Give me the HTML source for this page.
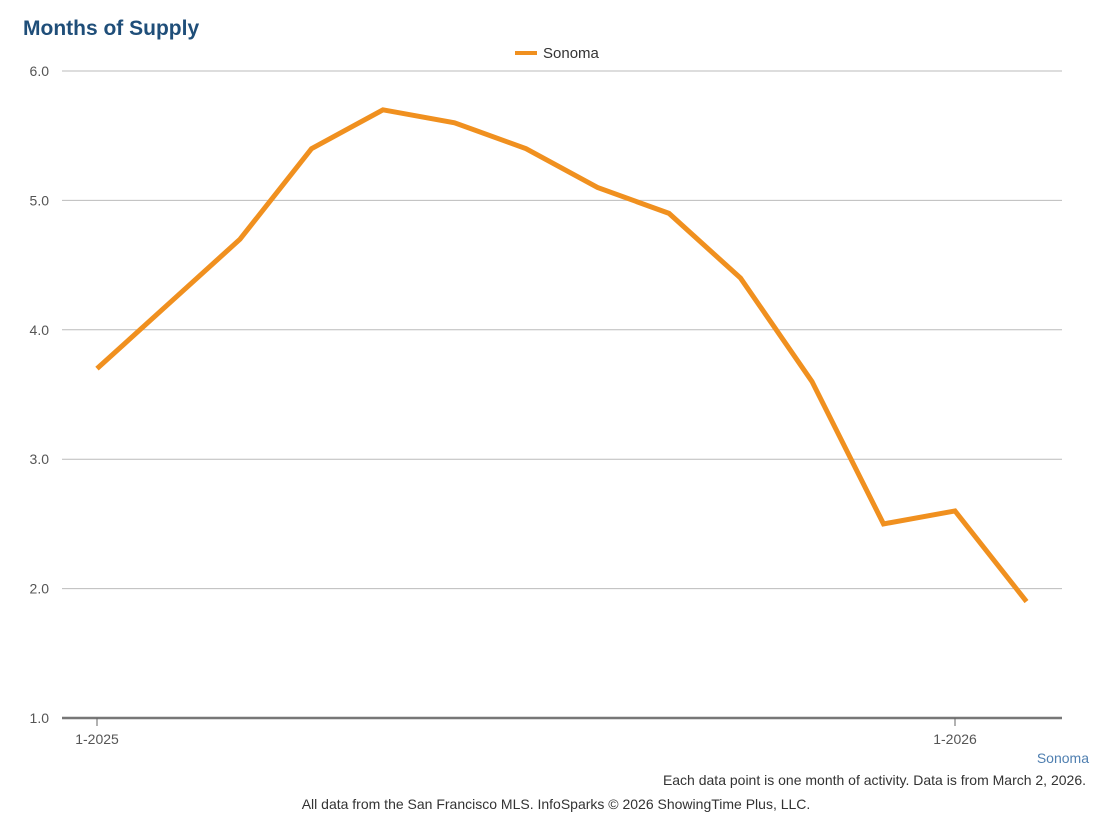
<!DOCTYPE html>
<html><head><meta charset="utf-8"><style>
body{margin:0;background:#fff;font-family:"Liberation Sans",Arial,sans-serif;}
svg text{font-family:"Liberation Sans",Arial,sans-serif;}
</style></head><body>
<svg id="chart" width="1112" height="826">
<text x="23" y="35" font-size="21" font-weight="bold" fill="#1f4e79">Months of Supply</text>
<g>
<rect x="515" y="51" width="22" height="4" fill="#f0901f"/>
<text x="543" y="58" font-size="15" fill="#333">Sonoma</text>
</g>
<g id="grid"></g><g id="axes"></g><g id="series"></g>
<text x="1089" y="763" font-size="14" fill="#4f7fb0" text-anchor="end">Sonoma</text>
<text x="1086" y="785" font-size="14" fill="#333" text-anchor="end">Each data point is one month of activity. Data is from March 2, 2026.</text>
<text x="556" y="809" font-size="14" fill="#333" text-anchor="middle">All data from the San Francisco MLS. InfoSparks © 2026 ShowingTime Plus, LLC.</text>
</svg>
<script>
const months = ["1-2025","2-2025","3-2025","4-2025","5-2025","6-2025","7-2025","8-2025","9-2025","10-2025","11-2025","12-2025","1-2026","2-2026"];
const sonoma = [3.7,4.2,4.7,5.4,5.7,5.6,5.4,5.1,4.9,4.4,3.6,2.5,2.6,1.9];
const yTicks = [1,2,3,4,5,6];
const xTickLabels = ["1-2025","1-2026"];
const NS="http://www.w3.org/2000/svg";
const x = i => 97 + i*71.5;
const y = v => 718 - (v-1)*129.4;
function mk(tag, attrs, parent){const e=document.createElementNS(NS,tag);for(const k in attrs)e.setAttribute(k,attrs[k]);parent.appendChild(e);return e;}
const grid=document.getElementById('grid'), axes=document.getElementById('axes'), series=document.getElementById('series');
yTicks.forEach(t=>{
  if(t>1){const l=mk('line',{x1:62,x2:1062,y1:y(t),y2:y(t),stroke:'#bbb','stroke-width':1},grid);
  
  }
  const tx=mk('text',{x:49,y:y(t)+5,'font-size':14,fill:'#555','text-anchor':'end'},axes);
  tx.textContent=t.toFixed(1);
  
  
});
const ax=mk('line',{x1:62,x2:1062,y1:718,y2:718,stroke:'#777','stroke-width':2.5},axes);


xTickLabels.forEach(lbl=>{
  const i=months.indexOf(lbl);
  const tk=mk('line',{x1:x(i),x2:x(i),y1:718,y2:726,stroke:'#666','stroke-width':1},axes);
  
  
  const tx=mk('text',{x:x(i),y:744,'font-size':14,fill:'#555','text-anchor':'middle'},axes);
  tx.textContent=lbl;
  
  
});
const p=mk('polyline',{points:sonoma.map((v,i)=>x(i)+','+y(v)).join(' '),fill:'none',stroke:'#f0901f','stroke-width':5,'stroke-linejoin':'miter'},series);


</script>
</body></html>
